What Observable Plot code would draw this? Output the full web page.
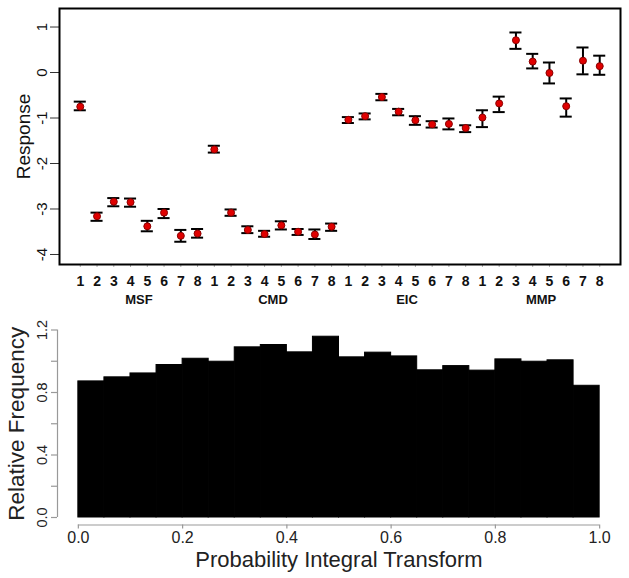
<!DOCTYPE html>
<html>
<head>
<meta charset="utf-8">
<script src="https://cdn.jsdelivr.net/npm/d3@7"></script>
<script src="https://cdn.jsdelivr.net/npm/@observablehq/plot@0.6"></script>
<style>
  html, body { margin: 0; padding: 0; background: white; }
  #chart svg { display: block; }
</style>
</head>
<body>
<div id="chart"></div>
<script>
// ---- Top panel data ----
const groups = ["MSF", "CMD", "EIC", "MMP"];
const levels = [1, 2, 3, 4, 5, 6, 7, 8];
const means = [
  -0.75, -3.16, -2.84, -2.85, -3.38, -3.08, -3.59, -3.54,
  -1.69, -3.08, -3.46, -3.55, -3.36, -3.50, -3.56, -3.39,
  -1.04, -0.96, -0.54, -0.86, -1.05, -1.14, -1.13, -1.22,
  -0.99, -0.68, 0.71, 0.24, -0.01, -0.74, 0.26, 0.14
];
const upper = [
  -0.64, -3.08, -2.76, -2.77, -3.26, -3.00, -3.46, -3.44,
  -1.61, -3.01, -3.38, -3.48, -3.27, -3.44, -3.45, -3.32,
  -0.98, -0.90, -0.47, -0.80, -0.96, -1.07, -1.01, -1.16,
  -0.83, -0.53, 0.88, 0.41, 0.22, -0.57, 0.55, 0.37
];
const lower = [
  -0.83, -3.26, -2.94, -2.95, -3.49, -3.20, -3.72, -3.63,
  -1.76, -3.15, -3.53, -3.61, -3.45, -3.57, -3.66, -3.48,
  -1.11, -1.03, -0.61, -0.94, -1.15, -1.21, -1.25, -1.31,
  -1.20, -0.87, 0.52, 0.09, -0.24, -0.97, -0.04, -0.05
];
const yTicksTop = [-4, -3, -2, -1, 0, 1];

// ---- Bottom panel data ----
const breaks = [0, 0.05, 0.1, 0.15, 0.2, 0.25, 0.3, 0.35, 0.4, 0.45, 0.5,
                0.55, 0.6, 0.65, 0.7, 0.75, 0.8, 0.85, 0.9, 0.95, 1.0];
const freq = [0.871, 0.897, 0.922, 0.976, 1.016, 0.997, 1.089, 1.104, 1.057, 1.157,
              1.025, 1.055, 1.031, 0.942, 0.969, 0.940, 1.012, 0.997, 1.006, 0.843];
const yTicksBottom = [0, 0.2, 0.4, 0.6, 0.8, 1.0, 1.2];
const yLabelsBottom = ["0.0", "0.4", "0.8", "1.2"];
const xTicksBottom = [0, 0.2, 0.4, 0.6, 0.8, 1.0];
const xLabelsBottom = ["0.0", "0.2", "0.4", "0.6", "0.8", "1.0"];

// ---- Build tables ----
const points = [];
groups.forEach((g, gi) => levels.forEach((l, li) => {
  const i = gi * levels.length + li;
  points.push({pos: i + 1, group: g, level: l, mean: means[i], lo: lower[i], hi: upper[i]});
}));
const groupCenters = groups.map((g, gi) => ({group: g, pos: gi * levels.length + (levels.length + 1) / 2}));
const bins = freq.map((f, i) => ({x0: breaks[i], x1: breaks[i + 1], f}));

const font = "'Liberation Sans', Arial, sans-serif";
const capHalf = 0.36;

const xDomTop = [1 - 1.24, 32 + 1.24];
const topChart = Plot.plot({
  width: 629, height: 310,
  marginLeft: 59, marginRight: 9, marginTop: 8, marginBottom: 46,
  style: {fontFamily: font, background: "white", color: "black"},
  x: {domain: xDomTop, axis: null},
  y: {domain: [-4.22, 1.407], axis: null},
  marks: [
    Plot.axisY({ticks: yTicksTop, tickSize: 9, tickFormat: () => "", label: null, stroke: "#333", strokeWidth: 1}),
    Plot.axisX({ticks: points.map(d => d.pos), tickSize: 3, tickFormat: () => "", label: null, stroke: "#aaa"}),
    Plot.text(yTicksTop, {y: d => d, text: d => String(d), frameAnchor: "left", dx: -17, rotate: -90,
      fontSize: 15, textAnchor: "middle", lineAnchor: "middle", fill: "#111"}),
    Plot.text(["Response"], {frameAnchor: "left", dx: -36, rotate: -90, fontSize: 19,
      textAnchor: "middle", lineAnchor: "middle", fill: "#111"}),
    Plot.text(points, {x: "pos", text: d => String(d.level), frameAnchor: "bottom", dy: 17,
      fontSize: 14, fontWeight: "bold", lineAnchor: "middle", fill: "#111"}),
    Plot.text(groupCenters, {x: "pos", text: "group", frameAnchor: "bottom", dy: 35,
      fontSize: 13, fontWeight: "bold", lineAnchor: "middle", fill: "#111"}),
    Plot.ruleX(points, {x: "pos", y1: "lo", y2: "hi", stroke: "black", strokeWidth: 2}),
    Plot.ruleY(points, {y: "hi", x1: d => d.pos - capHalf, x2: d => d.pos + capHalf, stroke: "black", strokeWidth: 2}),
    Plot.ruleY(points, {y: "lo", x1: d => d.pos - capHalf, x2: d => d.pos + capHalf, stroke: "black", strokeWidth: 2}),
    Plot.dot(points, {x: "pos", y: "mean", r: 3.5, fill: "#e00000", stroke: "#8a0000", strokeWidth: 1}),
    Plot.frame({stroke: "black", strokeWidth: 2})
  ]
});

const xDomBot = [-0.04, 1.04];
const yDomBot = [-0.048, 1.248];
const bottomChart = Plot.plot({
  width: 629, height: 268,
  marginLeft: 57, marginRight: 9, marginTop: 12, marginBottom: 53.5,
  style: {fontFamily: font, background: "white", color: "black"},
  x: {domain: xDomBot, axis: null},
  y: {domain: yDomBot, axis: null},
  marks: [
    Plot.rectY(bins, {x1: "x0", x2: "x1", y1: 0, y2: "f", fill: "black", stroke: "black", strokeWidth: 1}),
    Plot.ruleX([xDomBot[0]], {y1: yTicksBottom[0], y2: yTicksBottom[yTicksBottom.length - 1], stroke: "#999", strokeWidth: 1.2}),
    Plot.axisY({ticks: yTicksBottom, tickSize: 6, tickFormat: () => "", label: null, stroke: "#999", strokeWidth: 1.2}),
    Plot.text(yLabelsBottom, {y: d => +d, text: d => d, frameAnchor: "left", dx: -15, rotate: -90,
      fontSize: 14.5, textAnchor: "middle", lineAnchor: "middle", fill: "#222"}),
    Plot.ruleY([yDomBot[0]], {x1: xTicksBottom[0], x2: xTicksBottom[xTicksBottom.length - 1], stroke: "#999", strokeWidth: 1.2}),
    Plot.axisX({ticks: xTicksBottom, tickSize: 4, tickFormat: () => "", label: null, stroke: "#999", strokeWidth: 1.2}),
    Plot.text(xLabelsBottom, {x: d => +d, text: d => d, frameAnchor: "bottom", dy: 13,
      fontSize: 16, lineAnchor: "middle", fill: "#222"}),
    Plot.text(["Probability Integral Transform"], {frameAnchor: "bottom", dy: 35, fontSize: 22,
      lineAnchor: "middle", fill: "#222"}),
    Plot.text(["Relative Frequency"], {frameAnchor: "left", dx: -41, rotate: -90, fontSize: 22.5,
      textAnchor: "middle", lineAnchor: "middle", fill: "#222"})
  ]
});

const chart = document.getElementById("chart");
chart.appendChild(topChart);
chart.appendChild(bottomChart);
</script>
</body>
</html>
